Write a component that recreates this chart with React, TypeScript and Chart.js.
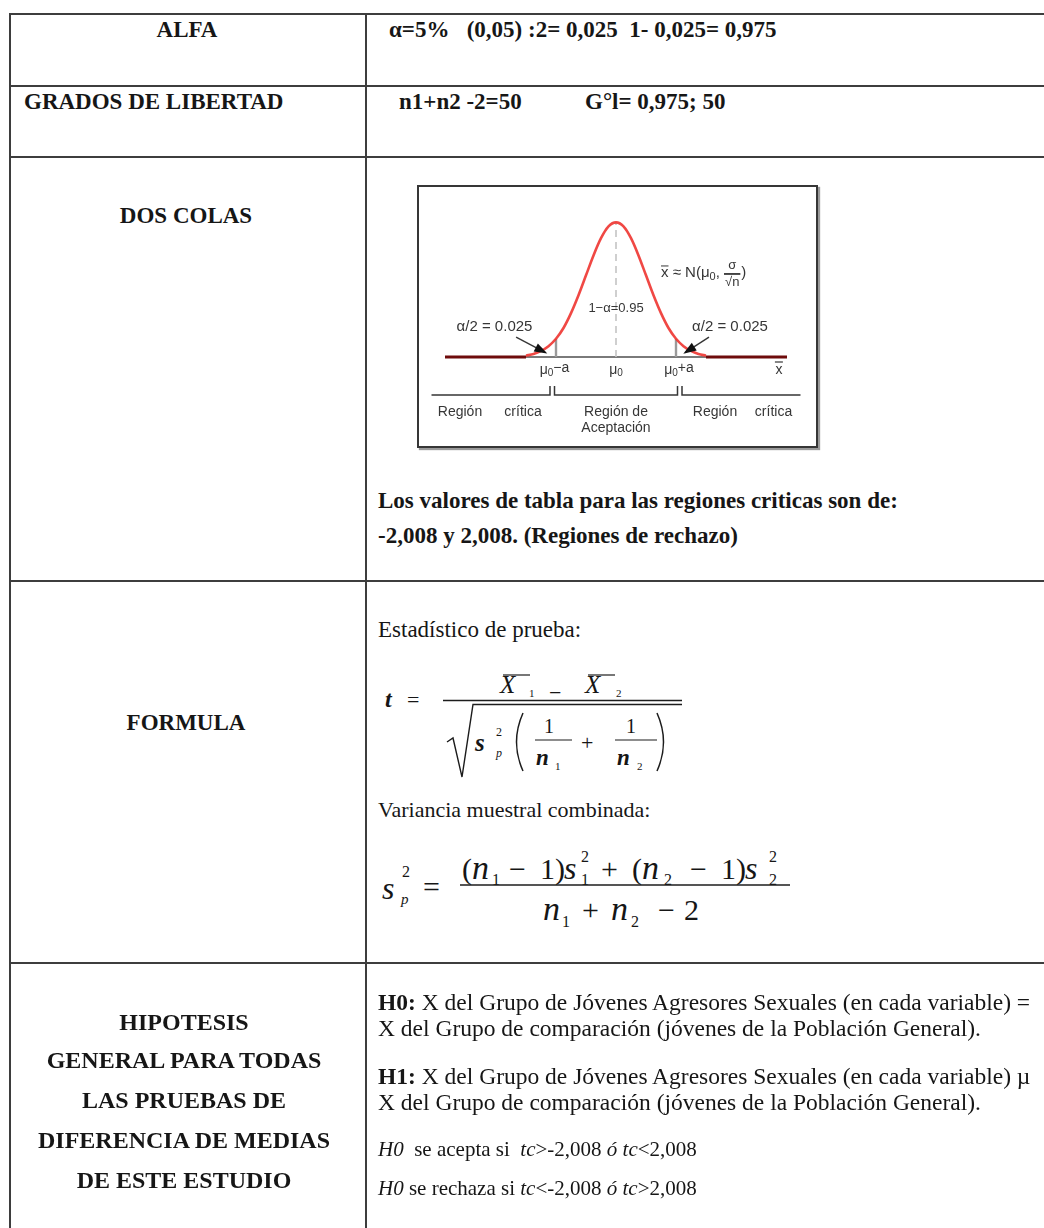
import React, { useEffect, useRef } from 'react';
import { Chart, registerables } from 'chart.js';

Chart.register(...registerables);

// ---------- chart values ----------
const curveZ = [-3.0, -2.75, -2.5, -2.25, -2.0, -1.75, -1.5, -1.25, -1.0, -0.75, -0.5, -0.25, 0, 0.25, 0.5, 0.75, 1.0, 1.25, 1.5, 1.75, 2.0, 2.25, 2.5, 2.75, 3.0];
const curveDensity = [0.004, 0.009, 0.018, 0.032, 0.054, 0.086, 0.13, 0.183, 0.242, 0.301, 0.352, 0.387, 0.399, 0.387, 0.352, 0.301, 0.242, 0.183, 0.13, 0.086, 0.054, 0.032, 0.018, 0.009, 0.004];
const axisRange = [-5.7, 5.7];
const tailEnds = [-3, 3];
const criticalZ = [-2, 2];
const criticalDensity = 0.054;
const peakDensity = 0.399;
const tickZ = [-2.05, 0, 2.1];
const tickSuffix = ['−a', '', '+a'];
const acceptLabel = '1−α=0.95';
const alphaLabel = 'α/2 = 0.025';
const alphaLabelZ = [-4.05, 3.8];
const alphaLabelDensity = 0.089;
const arrowStartZ = [-3.33, 3.1];
const arrowEndZ = [-2.35, 2.3];
const arrowStartDensity = 0.059;
const arrowEndDensity = 0.013;
const bracketSpans = [[-6.15, -2.2], [-2.05, 2.05], [2.2, 6.15]];
const regionWords = ['Región', 'crítica', 'Región de', 'Aceptación', 'Región', 'crítica'];
const regionWordZ = [-5.2, -3.1, 0, 0, 3.3, 5.25];
const distLabelZ = 1.5;
const distLabelDensity = 0.249;
const xbarZ = 5.43;

const SANS = '"Liberation Sans", Arial, sans-serif';
const INK = '#363636';

const annotPlugin = {
  id: 'annot',
  afterDatasetsDraw(chart: any) {
    const { ctx, scales } = chart;
    const px = (v: number) => scales.x.getPixelForValue(v);
    const py = (v: number) => scales.y.getPixelForValue(v);
    const base = py(0);
    ctx.save();
    ctx.fillStyle = INK;
    ctx.strokeStyle = INK;
    ctx.textBaseline = 'middle';
    ctx.textAlign = 'center';
    ctx.font = `13px ${SANS}`;

    // acceptance label
    ctx.fillText(acceptLabel, px(0), py(0.145));

    // alpha/2 labels and arrows
    alphaLabelZ.forEach((z, i) => {
      ctx.font = `15px ${SANS}`;
      ctx.textAlign = 'center';
      ctx.fillText(alphaLabel, px(z), py(alphaLabelDensity));
      const x0 = px(arrowStartZ[i]);
      const y0 = py(arrowStartDensity);
      const x1 = px(arrowEndZ[i]);
      const y1 = py(arrowEndDensity);
      ctx.lineWidth = 1.4;
      ctx.beginPath();
      ctx.moveTo(x0, y0);
      ctx.lineTo(x1, y1);
      ctx.stroke();
      const ang = Math.atan2(y1 - y0, x1 - x0);
      const L = 11;
      const W = 4.5;
      ctx.beginPath();
      ctx.moveTo(x1 + Math.cos(ang) * 2, y1 + Math.sin(ang) * 2);
      ctx.lineTo(x1 - Math.cos(ang) * L - Math.sin(ang) * W, y1 - Math.sin(ang) * L + Math.cos(ang) * W);
      ctx.lineTo(x1 - Math.cos(ang) * L + Math.sin(ang) * W, y1 - Math.sin(ang) * L - Math.cos(ang) * W);
      ctx.closePath();
      ctx.fillStyle = '#111';
      ctx.fill();
      ctx.fillStyle = INK;
    });

    // tick labels  μ0−a, μ0, μ0+a
    tickZ.forEach((z, i) => {
      const cx = px(z);
      const cy = base + 13;
      ctx.font = `14px ${SANS}`;
      const wMu = ctx.measureText('μ').width;
      const wS = ctx.measureText(tickSuffix[i]).width;
      ctx.font = `10px ${SANS}`;
      const w0 = ctx.measureText('0').width;
      const x = cx - (wMu + w0 + wS) / 2;
      ctx.textAlign = 'left';
      ctx.font = `14px ${SANS}`;
      ctx.fillText('μ', x, cy);
      ctx.font = `10px ${SANS}`;
      ctx.fillText('0', x + wMu, cy + 3);
      ctx.font = `14px ${SANS}`;
      ctx.fillText(tickSuffix[i], x + wMu + w0, cy - 2);
    });

    // x-bar axis label
    {
      const cx = px(xbarZ);
      const cy = base + 13;
      ctx.font = `14px ${SANS}`;
      ctx.textAlign = 'center';
      ctx.fillText('x', cx, cy);
      ctx.lineWidth = 1.2;
      ctx.beginPath();
      ctx.moveTo(cx - 4, cy - 8);
      ctx.lineTo(cx + 4, cy - 8);
      ctx.stroke();
    }

    // distribution label  x̄ ≈ N(μ0, σ/√n)
    {
      let x = px(distLabelZ);
      const cy = py(distLabelDensity);
      ctx.textAlign = 'left';
      ctx.font = `15px ${SANS}`;
      ctx.fillText('x', x, cy);
      const wx = ctx.measureText('x').width;
      ctx.lineWidth = 1;
      ctx.beginPath();
      ctx.moveTo(x, cy - 7);
      ctx.lineTo(x + wx, cy - 7);
      ctx.stroke();
      x += wx;
      const part = ' ≈ N(μ';
      ctx.fillText(part, x, cy);
      x += ctx.measureText(part).width;
      ctx.font = `11px ${SANS}`;
      ctx.fillText('0', x, cy + 4);
      x += ctx.measureText('0').width;
      ctx.font = `15px ${SANS}`;
      ctx.fillText(', ', x, cy);
      x += ctx.measureText(', ').width;
      ctx.font = `13px ${SANS}`;
      const wSig = ctx.measureText('√n').width + 2;
      ctx.textAlign = 'center';
      ctx.fillText('σ', x + wSig / 2, cy - 8);
      ctx.fillText('√n', x + wSig / 2, cy + 9);
      ctx.lineWidth = 1.8;
      ctx.beginPath();
      ctx.moveTo(x, cy + 1);
      ctx.lineTo(x + wSig, cy + 1);
      ctx.stroke();
      x += wSig + 1;
      ctx.textAlign = 'left';
      ctx.font = `15px ${SANS}`;
      ctx.fillText(')', x, cy);
    }

    // brackets
    ctx.lineWidth = 1.5;
    bracketSpans.forEach(([a, b]) => {
      const yb = base + 38;
      ctx.beginPath();
      if (Math.abs(a) < 3) {
        ctx.moveTo(px(a), yb - 9);
        ctx.lineTo(px(a), yb);
      } else {
        ctx.moveTo(px(a), yb);
      }
      ctx.lineTo(px(b), yb);
      if (Math.abs(b) < 3) ctx.lineTo(px(b), yb - 9);
      ctx.stroke();
    });

    // region labels
    ctx.font = `14px ${SANS}`;
    ctx.textAlign = 'center';
    regionWords.forEach((w, i) => {
      const dy = i === 3 ? 71 : 55;
      ctx.fillText(w, px(regionWordZ[i]), base + dy);
    });
    ctx.restore();
  },
};

function NormalCurve() {
  const ref = useRef<HTMLCanvasElement | null>(null);
  useEffect(() => {
    if (!ref.current) return;
    const pts = curveZ.map((z, i) => ({ x: z, y: curveDensity[i] }));
    const chart = new Chart(ref.current, {
      type: 'line',
      data: {
        datasets: [
          {
            data: pts,
            borderColor: 'rgba(238,52,48,0.9)',
            borderWidth: 2.6,
            pointRadius: 0,
            cubicInterpolationMode: 'monotone',
            clip: false,
          } as any,
          {
            data: [{ x: 0, y: 0 }, { x: 0, y: peakDensity }],
            borderColor: '#c4c4c4',
            borderWidth: 1.6,
            borderDash: [7, 5],
            pointRadius: 0,
            clip: false,
          },
          ...criticalZ.map((z) => ({
            data: [{ x: z, y: 0 }, { x: z, y: criticalDensity }],
            borderColor: '#9a9a9a',
            borderWidth: 2.4,
            pointRadius: 0,
            clip: false,
          })),
          {
            data: [{ x: axisRange[0], y: 0 }, { x: tailEnds[0], y: 0 }],
            borderColor: '#6e0b0b',
            borderWidth: 3,
            pointRadius: 0,
            clip: false,
          },
          {
            data: [{ x: tailEnds[1], y: 0 }, { x: axisRange[1], y: 0 }],
            borderColor: '#6e0b0b',
            borderWidth: 3,
            pointRadius: 0,
            clip: false,
          },
          {
            data: [{ x: tailEnds[0], y: 0 }, { x: tailEnds[1], y: 0 }],
            borderColor: '#7a7a7a',
            borderWidth: 2,
            pointRadius: 0,
            clip: false,
          },
        ],
      },
      options: {
        animation: false,
        responsive: false,
        events: [],
        layout: { padding: { left: 26, right: 29, top: 35, bottom: 89 } },
        plugins: { legend: { display: false }, tooltip: { enabled: false } },
        scales: {
          x: { type: 'linear', min: axisRange[0], max: axisRange[1], display: false },
          y: { type: 'linear', min: 0, max: 0.4, display: false },
        },
      } as any,
      plugins: [annotPlugin],
    });
    return () => chart.destroy();
  }, []);
  return <canvas ref={ref} width={397} height={259} style={{ display: 'block' }} />;
}

// ---------- page helpers ----------
type TP = { x: number; b: number; s?: number; w?: boolean; i?: boolean; c?: boolean; children: React.ReactNode };
const T = ({ x, b, s = 23, w, i, c, children }: TP) => (
  <div
    style={{
      position: 'absolute',
      left: c ? x - 400 : x,
      width: c ? 800 : undefined,
      textAlign: c ? 'center' : 'left',
      top: b - 0.8375 * s,
      fontSize: s,
      lineHeight: `${s}px`,
      fontWeight: w ? 'bold' : 'normal',
      fontStyle: i ? 'italic' : 'normal',
      whiteSpace: 'pre',
    }}
  >
    {children}
  </div>
);

const LINE = '#3d3d3d';
const HLine = ({ y }: { y: number }) => (
  <div style={{ position: 'absolute', left: 9, top: y, width: 1100, height: 2, background: LINE }} />
);
const VLine = ({ x }: { x: number }) => (
  <div style={{ position: 'absolute', left: x, top: 13, width: 2, height: 1300, background: LINE }} />
);

export default function App() {
  return (
    <div
      style={{
        position: 'absolute',
        left: 0,
        top: 0,
        width: 1044,
        height: 1228,
        overflow: 'hidden',
        background: '#fff',
        color: '#161616',
        fontFamily: '"Liberation Serif", "Times New Roman", serif',
      }}
    >
      <HLine y={13} />
      <HLine y={85} />
      <HLine y={156} />
      <HLine y={580} />
      <HLine y={962} />
      <VLine x={9} />
      <VLine x={365} />

      {/* row 1 */}
      <T x={187} b={37} w c>ALFA</T>
      <T x={389} b={37} w>{'α=5%   (0,05) :2= 0,025  1- 0,025= 0,975'}</T>

      {/* row 2 */}
      <T x={24} b={109} w>GRADOS DE LIBERTAD</T>
      <T x={399} b={109} w>n1+n2 -2=50</T>
      <T x={585} b={109} w>G°l= 0,975; 50</T>

      {/* row 3 */}
      <T x={186} b={223} w c>DOS COLAS</T>
      <div
        style={{
          position: 'absolute',
          left: 417,
          top: 185,
          width: 401,
          height: 263,
          border: '2px solid #363636',
          boxSizing: 'border-box',
          boxShadow: '2px 2px 1px #9a9a9a',
          background: '#fff',
        }}
      >
        <NormalCurve />
      </div>
      <T x={378} b={508} w>Los valores de tabla para las regiones criticas son de:</T>
      <T x={378} b={543} w>-2,008 y 2,008. (Regiones de rechazo)</T>

      {/* row 4 */}
      <T x={186} b={730} w c>FORMULA</T>
      <T x={378} b={637} s={23}>Estadístico de prueba:</T>

      {/* t formula */}
      <T x={385} b={707} s={24} w i>t</T>
      <T x={407} b={707} s={22}>=</T>
      <T x={500} b={693} s={25} i>X</T>
      <T x={529} b={697} s={11}>1</T>
      <T x={549} b={700} s={22}>−</T>
      <T x={585} b={693} s={25} i>X</T>
      <T x={616} b={697} s={11}>2</T>
      <T x={475} b={751} s={25} w i>s</T>
      <T x={496} b={736} s={12}>2</T>
      <T x={496} b={757} s={12} i>p</T>
      <T x={544} b={733} s={20}>1</T>
      <T x={536} b={765} s={23} i w>n</T>
      <T x={555} b={770} s={11}>1</T>
      <T x={581} b={750} s={22}>+</T>
      <T x={626} b={733} s={20}>1</T>
      <T x={617} b={765} s={23} i w>n</T>
      <T x={637} b={770} s={11}>2</T>

      <T x={378} b={817} s={22}>Variancia muestral combinada:</T>

      {/* s_p^2 formula */}
      <T x={382} b={899} s={32} i>s</T>
      <T x={402} b={877} s={16}>2</T>
      <T x={401} b={905} s={15} i>p</T>
      <T x={423} b={897} s={30}>=</T>
      <T x={462} b={879} s={30}>(</T>
      <T x={472} b={879} s={34} i>n</T>
      <T x={492} b={885} s={16}>1</T>
      <T x={509} b={879} s={30}>−</T>
      <T x={540} b={879} s={30}>1</T>
      <T x={555} b={879} s={30}>)</T>
      <T x={564} b={879} s={32} i>s</T>
      <T x={581} b={862} s={16}>2</T>
      <T x={581} b={885} s={16}>1</T>
      <T x={601} b={879} s={30}>+</T>
      <T x={632} b={879} s={30}>(</T>
      <T x={642} b={879} s={34} i>n</T>
      <T x={664} b={885} s={16}>2</T>
      <T x={690} b={879} s={30}>−</T>
      <T x={721} b={879} s={30}>1</T>
      <T x={736} b={879} s={30}>)</T>
      <T x={745} b={879} s={32} i>s</T>
      <T x={769} b={862} s={16}>2</T>
      <T x={769} b={885} s={16}>2</T>
      <T x={543} b={920} s={34} i>n</T>
      <T x={562} b={927} s={16}>1</T>
      <T x={582} b={920} s={30}>+</T>
      <T x={611} b={920} s={34} i>n</T>
      <T x={631} b={927} s={16}>2</T>
      <T x={658} b={920} s={30}>−</T>
      <T x={684} b={920} s={30}>2</T>

      <svg
        width={1044}
        height={1228}
        style={{ position: 'absolute', left: 0, top: 0, pointerEvents: 'none' }}
      >
        <g stroke="#1c1c1c" fill="none">
          <line x1={443} y1={700.5} x2={682} y2={700.5} strokeWidth={1.3} />
          <path d="M447,742 L453,738 L462,777 L473,704.5 L682,704.5" strokeWidth={1.4} />
          <line x1={503} y1={675} x2={530} y2={675} strokeWidth={1.2} />
          <line x1={588} y1={675} x2={615} y2={675} strokeWidth={1.2} />
          <path d="M523,713 Q510,742 523,771" strokeWidth={1.5} />
          <path d="M657,713 Q670,742 657,771" strokeWidth={1.5} />
          <line x1={535} y1={740} x2={572} y2={740} strokeWidth={1.2} />
          <line x1={615} y1={740} x2={657} y2={740} strokeWidth={1.2} />
          <line x1={460} y1={885} x2={790} y2={885} strokeWidth={1.6} />
        </g>
      </svg>

      {/* row 5 */}
      <T x={184} b={1030} s={24} w c>HIPOTESIS</T>
      <T x={184} b={1068} s={24} w c>GENERAL PARA TODAS</T>
      <T x={184} b={1108} s={24} w c>LAS PRUEBAS DE</T>
      <T x={184} b={1148} s={24} w c>DIFERENCIA DE MEDIAS</T>
      <T x={184} b={1188} s={24} w c>DE ESTE ESTUDIO</T>

      <T x={378} b={1011} s={23.5}>
        <b>H0:</b> X del Grupo de Jóvenes Agresores Sexuales (en cada variable) =
      </T>
      <T x={378} b={1037} s={23.5}>X del Grupo de comparación (jóvenes de la Población General).</T>
      <T x={378} b={1085} s={23.5}>
        <b>H1:</b> X del Grupo de Jóvenes Agresores Sexuales (en cada variable) µ
      </T>
      <T x={378} b={1111} s={23.5}>X del Grupo de comparación (jóvenes de la Población General).</T>
      <T x={378} b={1157} s={21}>
        <i>H0</i>  se acepta si  <i>tc</i>&gt;-2,008 <i>ó tc</i>&lt;2,008
      </T>
      <T x={378} b={1196} s={21}>
        <i>H0</i> se rechaza si <i>tc</i>&lt;-2,008 <i>ó tc</i>&gt;2,008
      </T>
    </div>
  );
}
